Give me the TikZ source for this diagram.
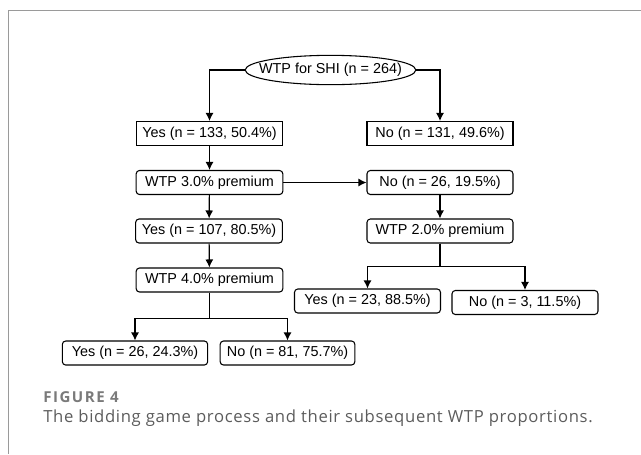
\documentclass[tikz,border=0pt]{standalone}
\usepackage{fontspec}
\setmainfont{Liberation Sans}
\newfontfamily\capfont{Open Sans}
\usetikzlibrary{arrows.meta,shapes.geometric}
\definecolor{frameGray}{HTML}{9A9A9A}
\definecolor{capGray}{HTML}{5C5C5C}
\definecolor{figGray}{HTML}{7A7A7A}

\begin{document}
\begin{tikzpicture}[x=0.75pt, y=-0.75pt,
    box/.style={draw, line width=0.8pt, minimum height=18pt, inner sep=0pt, font=\fontsize{10.8}{12}\selectfont},
    rbox/.style={box, rounded corners=2.5pt},
    arr/.style={line width=0.9pt, -{Latex[length=6pt,width=6pt]}}]
    \useasboundingbox (0,0) rectangle (641,454);

    % 边框
    \draw[frameGray, line width=1pt] (641,10.7) -- (8.7,10.7) -- (8.7,454);

    % 根节点
    \node[box, ellipse, inner xsep=-9.75pt, inner ysep=0pt, minimum width=128pt, minimum height=22pt] (root) at (330.5,70) {WTP for SHI (n = 264)};

    % 第一层
    \node[box, minimum width=110pt] (yes133) at (209.5,133.5) {Yes (n = 133, 50.4\%)};
    \node[box, minimum width=109.5pt] (no131) at (440,133.5) {No (n = 131, 49.6\%)};

    % 左侧出价
    \node[rbox, minimum width=110pt] (wtp3) at (209.5,182.5) {WTP 3.0\% premium};
    \node[rbox, minimum width=110pt] (yes107) at (209,231) {Yes (n = 107, 80.5\%)};
    \node[rbox, minimum width=110pt] (wtp4) at (209.5,280) {WTP 4.0\% premium};
    \node[rbox, minimum width=109pt] (yes26) at (135,353) {Yes (n = 26, 24.3\%)};
    \node[rbox, minimum width=101pt] (no81) at (287.5,353) {No (n = 81, 75.7\%)};

    % 右侧出价
    \node[rbox, minimum width=109.5pt] (no26) at (440,182.5) {No (n = 26, 19.5\%)};
    \node[rbox, minimum width=109.5pt] (wtp2) at (440,231) {WTP 2.0\% premium};
    \node[rbox, minimum width=109.5pt] (yes23) at (367.5,301) {Yes (n = 23, 88.5\%)};
    \node[rbox, minimum width=109.5pt] (no3) at (525,302.5) {No (n = 3, 11.5\%)};

    % 连线
    \draw[arr] (root.west) -| (yes133.north);
    \draw[arr] (root.east) -| (no131.north);
    \draw[arr] (yes133) -- (wtp3);
    \draw[arr] (wtp3) -- (no26);
    \draw[arr] (wtp3) -- (yes107);
    \draw[arr] (yes107) -- (wtp4);
    \draw[arr] (no26) -- (wtp2);
    \draw[arr] (wtp4.south) -- ++(0,26) -| (yes26.north);
    \draw[arr] (wtp4.south) -- ++(0,26) -| (no81.north);
    \draw[arr] (wtp2.south) -- ++(0,23) -| (yes23.north);
    \draw[arr] (wtp2.south) -- ++(0,23) -| (no3.north);

    % 图注
    \node[anchor=base west, inner sep=0pt, font=\capfont\addfontfeature{LetterSpace=10}\bfseries\fontsize{11.3}{12}\selectfont, text=figGray] (fig) at (43,402.5) {FIGURE 4};
    \node[anchor=base west, inner sep=0pt, font=\capfont\addfontfeature{LetterSpace=4}\fontsize{12.5}{14}\selectfont, text=capGray] (cap) at (43,422) {The bidding game process and their subsequent WTP proportions.};
\end{tikzpicture}
\end{document}
